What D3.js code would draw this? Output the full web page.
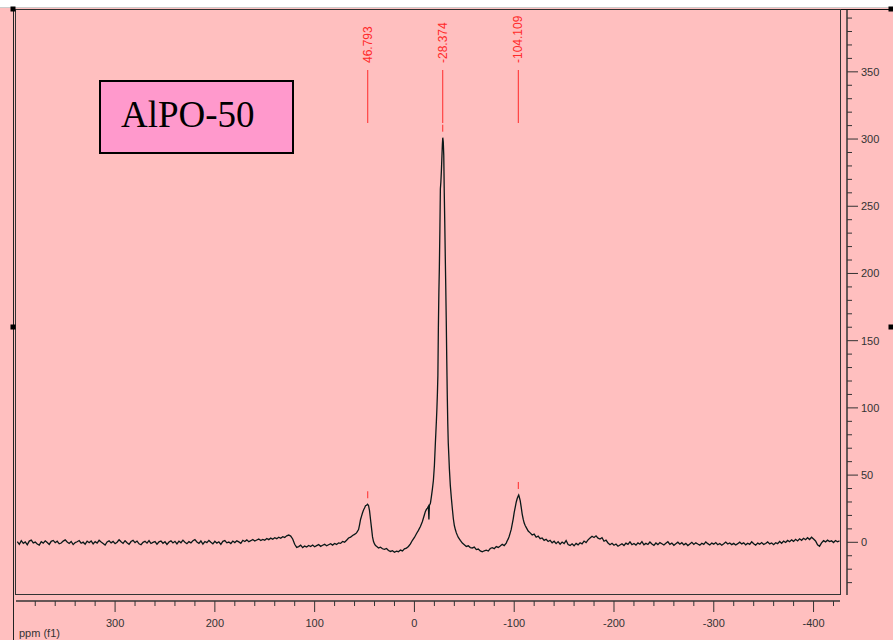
<!DOCTYPE html>
<html>
<head>
<meta charset="utf-8">
<script src="https://cdn.jsdelivr.net/npm/d3@7"></script>
<style>
  body { margin: 0; background: #fff; }
  svg { display: block; }
</style>
</head>
<body>
<svg id="chart" width="893" height="640"></svg>
<script>
// spectrum, [ppm, intensity]
const spectrum = [
  [398,0.5],[396,-1.5],[394,1.2],[392,-0.8],[390,0.3],[388,-1.9],[386,0.9],[384,1.6],[382,-0.4],[380,0.2],
  [378,-1.3],[376,-2.1],[374,0.4],[372,-0.6],[370,1.1],[368,-0.2],[366,-1.6],[364,0.7],[362,1.4],[360,-0.3],
  [358,0.8],[356,-1.1],[354,-0.5],[352,0.9],[350,1.8],[348,0.2],[346,-0.9],[344,0.6],[342,-1.7],[340,-0.2],
  [338,0.4],[336,1.3],[334,-0.7],[332,0.1],[330,-1.4],[328,0.9],[326,-0.3],[324,1.0],[322,-1.2],[320,0.5],
  [318,-0.6],[316,1.5],[314,0.2],[312,-0.9],[310,-2.0],[308,0.3],[306,1.1],[304,-0.4],[302,0.7],[300,-1.0],
  [298,0.1],[296,1.9],[294,0.4],[292,-0.8],[290,1.2],[288,-0.3],[286,-1.5],[284,0.6],[282,1.4],[280,-0.2],
  [278,0.9],[276,-1.1],[274,-1.8],[272,0.0],[270,0.8],[268,-0.6],[266,1.3],[264,-0.9],[262,-0.1],[260,0.6],
  [258,-1.4],[256,0.3],[254,1.0],[252,-0.7],[250,0.4],[248,-1.6],[246,0.2],[244,1.1],[242,-0.5],[240,0.7],
  [238,-1.2],[236,0.9],[234,-0.3],[232,1.6],[230,0.1],[228,-1.0],[226,0.5],[224,-0.4],[222,1.2],[220,2.0],
  [218,0.3],[216,-0.8],[214,1.0],[212,-1.3],[210,0.6],[208,-0.2],[206,1.4],[204,0.0],[202,-1.1],[200,0.8],
  [198,-0.6],[196,0.4],[194,-1.5],[192,0.7],[190,1.3],[188,-0.4],[186,0.2],[184,-0.9],[182,0.9],[180,-0.2],
  [178,1.1],[176,0.3],[174,-0.7],[172,1.5],[170,0.6],[168,1.8],[166,0.4],[164,1.2],[162,2.1],[160,0.9],
  [158,1.7],[156,2.4],[154,1.3],[152,2.2],[150,1.6],[148,2.8],[146,2.0],[144,3.1],[142,2.3],[140,3.4],
  [138,2.7],[136,3.8],[134,3.0],[132,4.2],[130,3.6],[128,4.8],[126,5.4],[124,4.6],[122,2.5],[120,-1.5],
  [118,-3.8],[116,-3.2],[114,-2.1],[112,-3.9],[110,-2.8],[108,-3.5],[106,-2.4],[104,-3.1],[102,-2.0],[100,-3.3],
  [98,-2.5],[96,-1.7],[94,-3.0],[92,-2.2],[90,-1.5],[88,-2.6],[86,-1.8],[84,-1.0],[82,-2.1],[80,-0.9],
  [78,-1.6],[76,-0.4],[74,-0.8],[72,0.6],[70,0.1],[68,1.5],[66,3.2],[64,3.8],[62,5.1],[60,5.9],
  [58,7.0],[56,9.5],[55,13.0],[54,17.0],[53,19.5],[52,22.0],[51,24.0],[50,25.5],[49,27.2],[48,27.6],
  [47,28.3],[46,27.4],[45,23.5],[44,17.0],[43,10.5],[42,4.0],[41,0.5],[40,-1.2],[39,-2.4],[38,-3.0],
  [36,-4.2],[34,-3.6],[32,-4.8],[30,-5.2],[28,-4.6],[26,-6.1],[24,-6.8],[22,-6.2],[20,-7.4],[18,-6.6],
  [16,-7.0],[14,-5.8],[12,-6.4],[10,-4.9],[8,-4.3],[6,-3.1],[4,-1.2],[2,1.5],[0,3.6],[-2,6.4],
  [-4,8.9],[-6,11.8],[-8,15.5],[-10,20.5],[-11,23.0],[-12,24.5],[-13,25.5],[-14,26.8],[-14.5,17],[-15,27.5],
  [-16,29.0],[-17,34.0],[-18,39.5],[-19,46.0],[-20,57.0],[-21,74.0],[-22,90.0],[-22.5,99],[-23,110],[-23.5,124],
  [-24,160],[-24.5,186],[-25,205],[-25.5,232],[-26,263],[-26.5,268],[-27,276],[-27.5,286],[-28,296],[-28.4,301],
  [-28.9,298],[-29.4,288],[-29.9,260],[-30.4,238],[-30.9,213],[-31.4,190],[-31.9,165],[-32.4,136],[-32.9,110],[-33.4,89],
  [-33.9,74],[-34.5,64],[-35,55],[-36,42],[-37,33],[-38,25],[-39,17.5],[-40,12.5],[-41,9.5],[-42,7.0],
  [-43,5.2],[-44,3.6],[-46,1.4],[-48,-0.6],[-50,-1.8],[-52,-3.1],[-54,-2.6],[-56,-3.9],[-58,-4.2],[-60,-3.6],
  [-62,-5.4],[-64,-5.0],[-66,-6.4],[-68,-7.1],[-70,-6.3],[-72,-5.9],[-74,-6.5],[-76,-4.6],[-78,-4.0],[-80,-4.7],
  [-82,-3.2],[-84,-3.8],[-86,-2.7],[-88,-1.5],[-90,-2.4],[-92,-0.6],[-93,1.2],[-94,2.5],[-95,4.5],[-96,7.0],
  [-97,9.6],[-98,13.5],[-99,17.5],[-100,22.3],[-101,26.0],[-102,29.8],[-103,32.6],[-104,34.4],[-104.5,35.2],[-105,33.9],
  [-106,31.0],[-107,26.2],[-108,21.0],[-109,17.2],[-110,14.3],[-111,12.5],[-112,11.1],[-114,8.4],[-116,7.0],[-118,5.4],
  [-120,6.1],[-122,3.8],[-124,4.6],[-126,2.7],[-128,3.2],[-130,1.4],[-132,2.3],[-134,0.6],[-136,1.5],[-138,-0.4],
  [-140,0.8],[-142,-1.0],[-144,0.5],[-146,-1.4],[-148,0.2],[-150,-0.9],[-152,1.3],[-154,-1.7],[-156,-2.3],[-158,-1.1],
  [-160,-2.6],[-162,-0.8],[-164,-1.9],[-166,-0.3],[-168,-1.2],[-170,0.9],[-172,-0.2],[-174,1.8],[-176,3.2],[-178,4.5],
  [-180,3.6],[-182,4.8],[-184,3.1],[-186,2.4],[-188,3.5],[-190,0.8],[-192,1.6],[-194,-0.5],[-196,-1.8],[-198,-0.7],
  [-200,-2.2],[-202,-1.3],[-204,-2.9],[-206,-2.0],[-208,-1.1],[-210,-2.4],[-212,-0.6],[-214,-1.5],[-216,0.3],[-218,-1.8],
  [-220,-0.9],[-222,-2.1],[-224,-0.4],[-226,-1.4],[-228,0.5],[-230,-1.9],[-232,-0.8],[-234,-1.6],[-236,0.2],[-238,-1.3],
  [-240,-2.3],[-242,-0.5],[-244,-1.7],[-246,-0.2],[-248,-1.1],[-250,-2.0],[-252,-0.7],[-254,0.4],[-256,-1.5],[-258,-0.6],
  [-260,-2.2],[-262,-1.0],[-264,0.1],[-266,-1.4],[-268,-0.3],[-270,-1.9],[-272,-0.8],[-274,-2.4],[-276,-1.2],[-278,0.0],
  [-280,-1.6],[-282,-0.4],[-284,-1.3],[-286,-2.1],[-288,-0.7],[-290,-1.5],[-292,0.3],[-294,-1.0],[-296,-2.0],[-298,-0.6],
  [-300,-1.4],[-302,-0.2],[-304,-1.8],[-306,-0.9],[-308,-2.2],[-310,-1.1],[-312,0.2],[-314,-1.3],[-316,-0.5],[-318,-1.7],
  [-320,-0.8],[-322,-2.0],[-324,-1.0],[-326,0.1],[-328,-1.2],[-330,-0.4],[-332,-1.9],[-334,-0.7],[-336,-1.5],[-338,0.4],
  [-340,-1.1],[-342,-2.1],[-344,-0.6],[-346,-1.4],[-348,-0.2],[-350,-1.6],[-352,-0.9],[-354,0.3],[-356,-1.2],[-358,-0.5],
  [-360,-1.8],[-362,-0.3],[-364,-1.0],[-366,0.6],[-368,-0.7],[-370,0.9],[-372,-0.1],[-374,1.4],[-376,0.4],[-378,1.8],
  [-380,0.7],[-382,2.2],[-384,1.0],[-386,2.6],[-388,1.5],[-390,3.0],[-392,1.9],[-394,3.4],[-396,2.1],[-398,3.8],
  [-400,2.4],[-402,1.0],[-404,-1.8],[-406,-2.9],[-408,-0.4],[-410,1.2],[-412,0.3],[-414,1.6],[-416,0.5],[-418,1.1],
  [-420,-0.2],[-422,1.3],[-424,0.4],[-426,1.0]
];

// picked peaks: label, ppm, height
const peakLabels = ["46.793", "-28.374", "-104.109"];
const peakPpm = [46.793, -28.374, -104.109];
const peakHeight = [28.3, 301, 35.2];

const xTicks = [300, 200, 100, 0, -100, -200, -300, -400];
const yTicks = [0, 50, 100, 150, 200, 250, 300, 350];
const sampleName = "AlPO-50";

const svg = d3.select("#chart");
const pink = "#ffbfbf";

// page background below the title strip
svg.append("rect").attr("x", 0).attr("y", 0).attr("width", 893).attr("height", 640).attr("fill", pink);
svg.append("rect").attr("x", 0).attr("y", 0).attr("width", 893).attr("height", 7).attr("fill", "#fff");
svg.append("line").attr("x1", 0).attr("x2", 893).attr("y1", 7.5).attr("y2", 7.5).attr("stroke", "#ccc");
svg.append("line").attr("x1", 13).attr("x2", 893).attr("y1", 9.5).attr("y2", 9.5).attr("stroke", "#111");
svg.append("line").attr("x1", 13.5).attr("x2", 13.5).attr("y1", 9).attr("y2", 640).attr("stroke", "#222");

const x = d3.scaleLinear().domain([399.3, -426.5]).range([16, 840]);
const y = d3.scaleLinear().domain([-39.2, 396]).range([595, 10]);

// plot frame
svg.append("rect")
  .attr("x", 15.5).attr("y", 9.5).attr("width", 825).attr("height", 585)
  .attr("fill", "none").attr("stroke", "#333");

// x axis
const xAxis = svg.append("g").attr("transform", "translate(0,601)");
xAxis.append("line").attr("x1", 16).attr("x2", 840).attr("stroke", "#333").attr("stroke-width", 1.5);
xAxis.selectAll(".minor").data(d3.range(380, -421, -20)).enter()
  .append("line")
  .attr("x1", d => x(d)).attr("x2", d => x(d))
  .attr("y1", 0).attr("y2", d => d % 100 === 0 ? 11 : 5)
  .attr("stroke", "#333");
xAxis.selectAll("text").data(xTicks).enter()
  .append("text")
  .attr("x", d => x(d)).attr("y", 26)
  .attr("text-anchor", "middle")
  .style("font-family", "Liberation Sans, Arial, sans-serif")
  .style("font-size", "11px")
  .attr("fill", "#333")
  .text(d => d);
svg.append("text")
  .attr("x", 19).attr("y", 637)
  .style("font-family", "Liberation Sans, Arial, sans-serif")
  .style("font-size", "11px")
  .attr("fill", "#333")
  .text("ppm (f1)");

// y axis on the right
const yAxis = svg.append("g").attr("transform", "translate(847,0)");
yAxis.append("line").attr("y1", 10).attr("y2", 595).attr("stroke", "#333").attr("stroke-width", 1.5);
yAxis.selectAll(".minor").data(d3.range(-30, 391, 10)).enter()
  .append("line")
  .attr("y1", d => y(d)).attr("y2", d => y(d))
  .attr("x1", 0).attr("x2", d => d % 50 === 0 ? 11 : 5)
  .attr("stroke", "#333");
yAxis.selectAll("text").data(yTicks).enter()
  .append("text")
  .attr("x", 14).attr("y", d => y(d) + 4)
  .style("font-family", "Liberation Sans, Arial, sans-serif")
  .style("font-size", "11px")
  .attr("fill", "#333")
  .text(d => d);

// spectrum trace
const line = d3.line().x(d => x(d[0])).y(d => y(d[1]));
svg.append("path")
  .datum(spectrum)
  .attr("d", line)
  .attr("fill", "none")
  .attr("stroke", "#0a1818")
  .attr("stroke-width", 1.3);

// peak picking marks
const red = "#ff2a2a";
peakPpm.forEach((p, i) => {
  svg.append("line")
    .attr("x1", x(p)).attr("x2", x(p)).attr("y1", 70).attr("y2", 123)
    .attr("stroke", red);
  svg.append("line")
    .attr("x1", x(p)).attr("x2", x(p))
    .attr("y1", y(peakHeight[i]) - 13).attr("y2", y(peakHeight[i]) - 6)
    .attr("stroke", red);
  svg.append("text")
    .attr("transform", `translate(${x(p) + 4},63) rotate(-90)`)
    .style("font-family", "Liberation Sans, Arial, sans-serif")
    .style("font-size", "12px")
    .attr("fill", red)
    .text(peakLabels[i]);
});

// sample label box
svg.append("rect")
  .attr("x", 100).attr("y", 81).attr("width", 193).attr("height", 72)
  .attr("fill", "#ff99cc").attr("stroke", "#000").attr("stroke-width", 2);
svg.append("text")
  .attr("x", 121).attr("y", 127)
  .style("font-family", "Liberation Serif, Times New Roman, serif")
  .style("font-size", "37px")
  .attr("fill", "#000")
  .text(sampleName);

// selection handles
[[13, 9], [13, 327], [891, 9], [891, 327]].forEach(h => {
  svg.append("rect").attr("x", h[0] - 2.5).attr("y", h[1] - 2.5)
    .attr("width", 5).attr("height", 5).attr("fill", "#000");
});
</script>
</body>
</html>
